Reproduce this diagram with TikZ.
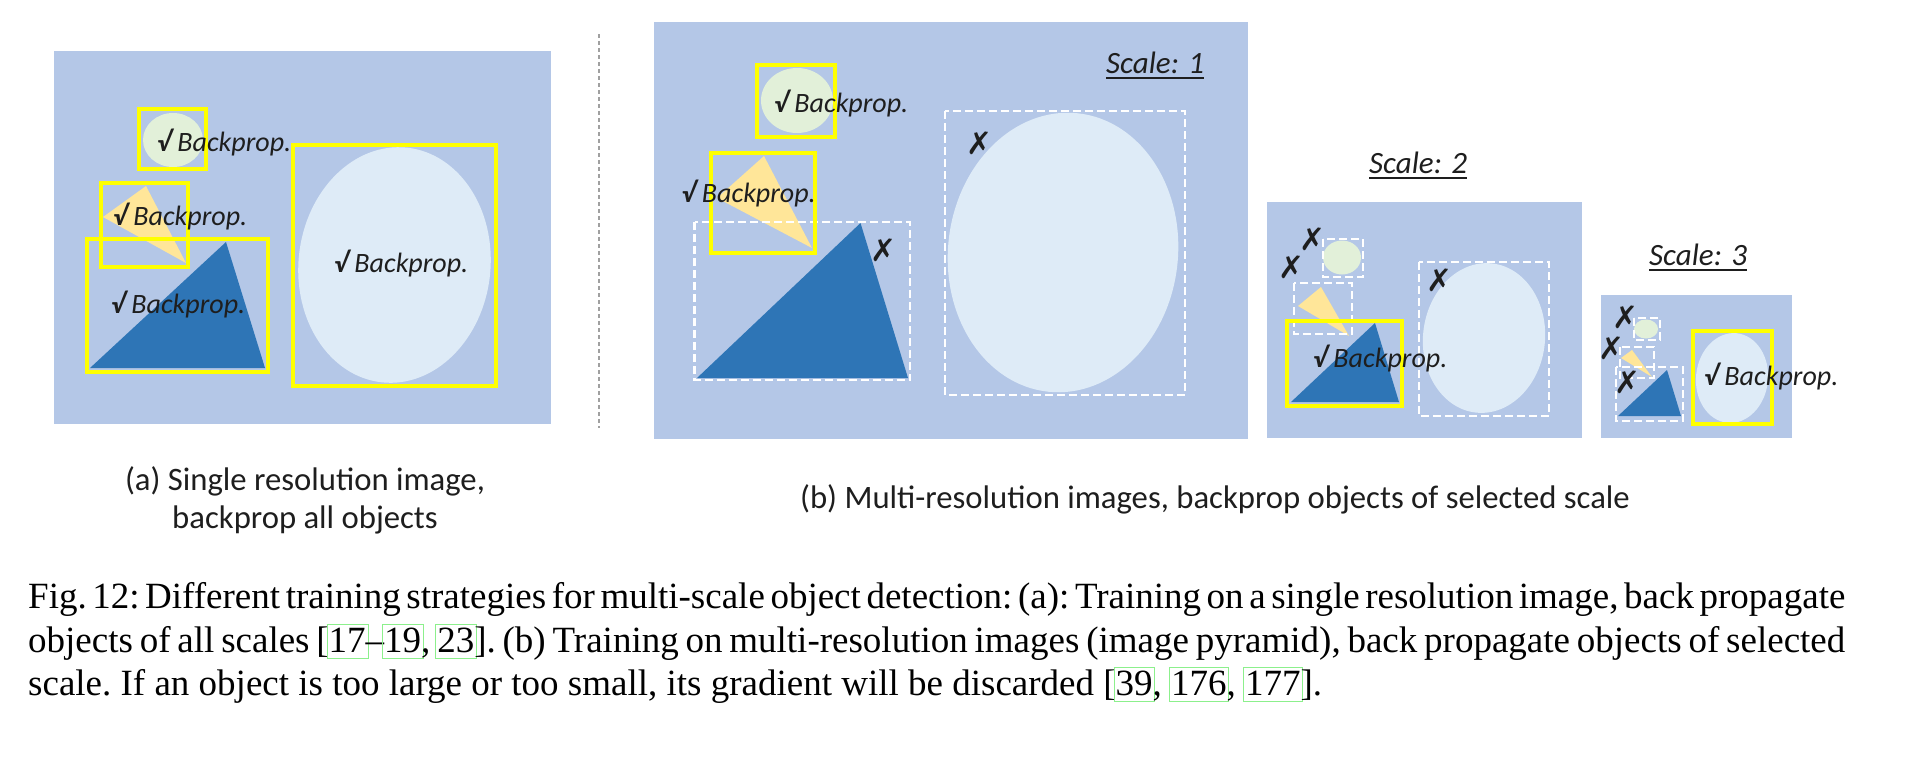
\documentclass[tikz,border=0pt]{standalone}
\usepackage{fontspec}
\setmainfont{Liberation Serif}
\newfontfamily\calib{Carlito}
\newfontfamily\dejavu{DejaVu Sans}
\definecolor{bgblue}{HTML}{B4C7E7}
\definecolor{bigell}{HTML}{DEEBF7}
\definecolor{smallell}{HTML}{E2F0D9}
\definecolor{ytri}{HTML}{FFE699}
\definecolor{btri}{HTML}{2E75B6}
\definecolor{ybright}{HTML}{FFFF00}
\definecolor{txt}{HTML}{1E1E1E}
\definecolor{lgreen}{HTML}{8CF08C}
\definecolor{sepgray}{HTML}{A0A0A0}
\newcommand\lnk[1]{\rlap{\kern-2pt\textcolor{lgreen}{\fboxsep=1.5pt\fboxrule=0.8pt\fbox{\vphantom{[}\phantom{#1}}}}#1}
\newcommand\myul[1]{\setbox0\hbox{#1}\rlap{\rule[-5.5pt]{\wd0}{2pt}}\box0}
\newcommand\bp{{\bfseries √} Backprop.}
\newcommand\jline[1]{{\spaceskip=.25em plus .2em minus .12em\makebox[1817pt][s]{#1}}}
\tikzset{
  panel/.style={fill=bgblue},
  ybox/.style={draw=ybright, line width=3.5},
  dbox/.style={draw=white, line width=2.5, dash pattern=on 8 off 4},
  lbl/.style={anchor=base west, inner sep=0, text=txt, font=\calib\fontsize{28}{32}\selectfont\itshape},
  xmark/.style={inner sep=0, text=txt, font=\dejavu\fontsize{31}{34}\selectfont},
  scl/.style={anchor=base west, inner sep=0, text=txt, font=\calib\fontsize{31}{36}\selectfont\itshape},
  subcap/.style={anchor=base, inner sep=0, text=txt, font=\calib\fontsize{32.7}{38}\selectfont},
  figcap/.style={anchor=base west, inner sep=0, text=black, font=\fontsize{37}{43}\selectfont\frenchspacing},
}
\begin{document}
\begin{tikzpicture}[x=1pt,y=-1pt]
\useasboundingbox (0,0) rectangle (1914,764);
\fill[white] (0,0) rectangle (1914,764);

% ---------- panel (a) ----------
\fill[panel] (54,51) rectangle (551,424);
\fill[smallell] (173,140) ellipse [x radius=30, y radius=27];
\fill[ytri] (146,186) -- (103,217) -- (186,263) -- cycle;
\fill[btri] (90,368) -- (226,242) -- (265,368) -- cycle;
\fill[bigell, rotate around={-6:(394.5,265)}] (394.5,265) ellipse [x radius=96, y radius=118];
\draw[ybox] (139,109) rectangle (206,169);
\draw[ybox] (101,183) rectangle (188,267);
\draw[ybox] (87,239) rectangle (268,372);
\draw[ybox] (293,145) rectangle (496,386);
\node[lbl] (a1) at (157,151) {\bp};
\node[lbl] (a2) at (113,225) {\bp};
\node[lbl] (a3) at (111,313) {\bp};
\node[lbl] (a4) at (334,272) {\bp};

% separator
\draw[sepgray, line width=1.5, dash pattern=on 4 off 3] (599,34) -- (599,428);

% ---------- scale 1 ----------
\fill[panel] (654,22) rectangle (1248,439);
\fill[smallell] (797,100.5) ellipse [x radius=36, y radius=32.5];
\fill[ytri] (764,156) -- (717,198) -- (812,248) -- cycle;
\fill[btri] (697,378) -- (860.5,223) -- (908,378) -- cycle;
\fill[bigell, rotate around={-6:(1063,252.5)}] (1063,252.5) ellipse [x radius=115, y radius=140];
\draw[dbox] (694.5,222) rectangle (910,380);
\draw[dbox] (945,111) rectangle (1185,395);
\draw[ybox] (757,65) rectangle (835,137);
\draw[ybox] (711,153) rectangle (815,253);
\node[lbl] (b1) at (774,112) {\bp};
\node[lbl] (b2) at (681.5,202) {\bp};
\node[xmark] (x11) at (883,250) {✗};
\node[xmark] (x12) at (979,143) {✗};
\node[scl] (s1) at (1106,73) {\myul{Scale: 1}};

% ---------- scale 2 ----------
\fill[panel] (1267,202) rectangle (1582,438);
\fill[smallell] (1342,257.5) ellipse [x radius=19, y radius=17];
\fill[ytri] (1321,287) -- (1298,306) -- (1349,336) -- cycle;
\fill[btri] (1291,402) -- (1375,323) -- (1399,402) -- cycle;
\fill[bigell, rotate around={-6:(1484,338)}] (1484,338) ellipse [x radius=61, y radius=75];
\draw[dbox] (1323,239) rectangle (1363,277);
\draw[dbox] (1294,283) rectangle (1352,334);
\draw[dbox] (1419,262) rectangle (1549,416);
\draw[ybox] (1287,321) rectangle (1402,406);
\node[lbl] (c1) at (1313,367) {\bp};
\node[xmark] (x21) at (1312,239) {✗};
\node[xmark] (x22) at (1291,267) {✗};
\node[xmark] (x23) at (1439,280) {✗};
\node[scl] (s2) at (1369,173) {\myul{Scale: 2}};

% ---------- scale 3 ----------
\fill[panel] (1601,295) rectangle (1792,438);
\fill[smallell] (1646,329) ellipse [x radius=12, y radius=9.5];
\fill[ytri] (1632,350) -- (1621,358) -- (1652,377) -- cycle;
\fill[btri] (1618,416) -- (1667,370) -- (1681,416) -- cycle;
\fill[bigell, rotate around={-6:(1732,378)}] (1732,378) ellipse [x radius=36, y radius=45];
\draw[dbox] (1634,318) rectangle (1660,340);
\draw[dbox] (1620,347) rectangle (1654,378);
\draw[dbox] (1616,367) rectangle (1683,421);
\draw[ybox] (1693,331) rectangle (1772,424);
\node[lbl] (d1) at (1704,385) {\bp};
\node[xmark] (x31) at (1625,317) {✗};
\node[xmark] (x32) at (1611,348) {✗};
\node[xmark] (x33) at (1627,382) {✗};
\node[scl] (s3) at (1649,265) {\myul{Scale: 3}};

% ---------- sub captions ----------
\node[subcap] (capa1) at (305,490) {(a) Single resolution image,};
\node[subcap] (capa2) at (305,528) {backprop all objects};
\node[subcap] (capb) at (1215,508) {(b) Multi-resolution images, backprop objects of selected scale};

% ---------- figure caption ----------
\node[figcap] (f1) at (28,608) {\jline{Fig. 12: Different training strategies for multi-scale object detection: (a): Training on a single resolution image, back propagate}};
\node[figcap] (f2) at (28,652) {\jline{objects of all scales [\lnk{17}--\lnk{19}, \lnk{23}]. (b) Training on multi-resolution images (image pyramid), back propagate objects of selected}};
\node[figcap] (f3) at (28,695) {scale. If an object is too large or too small, its gradient will be discarded [\lnk{39}, \lnk{176}, \lnk{177}].};
\end{tikzpicture}
\end{document}
